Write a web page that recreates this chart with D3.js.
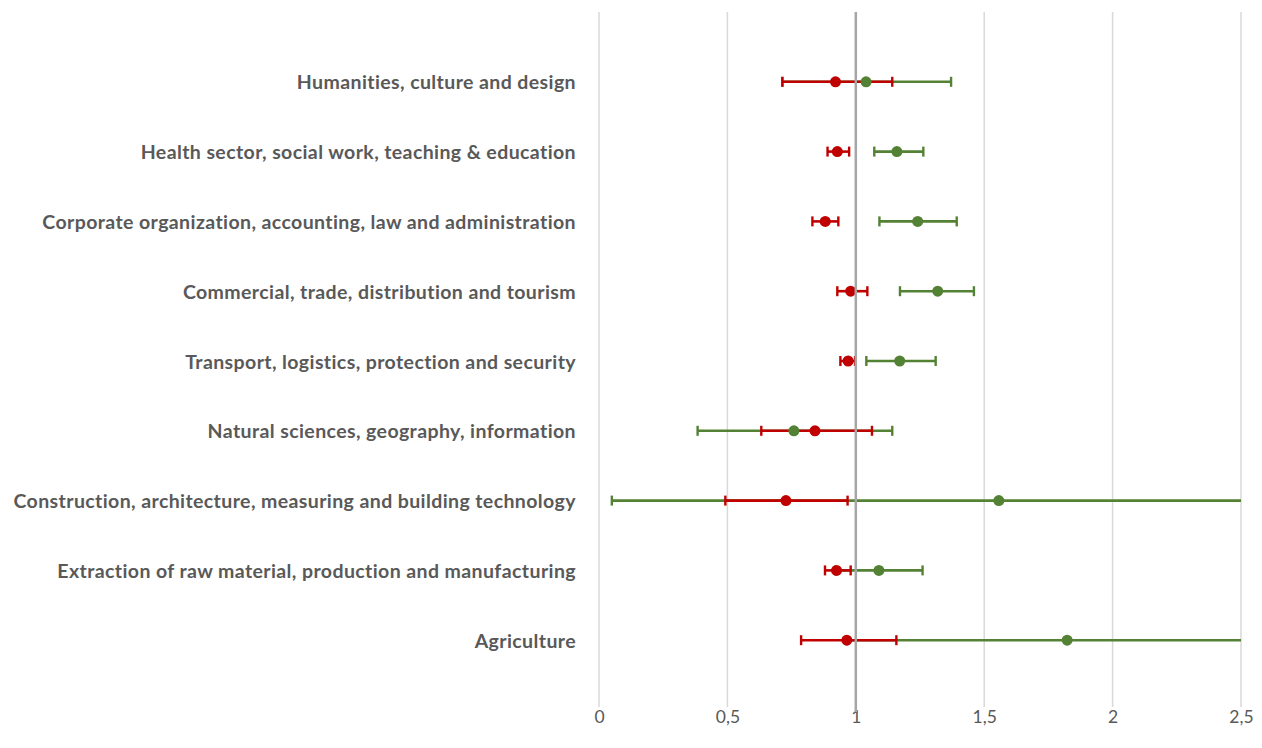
<!DOCTYPE html>
<html>
<head>
<meta charset="utf-8">
<script src="https://cdn.jsdelivr.net/npm/d3@7"></script>
<style>
  html, body { margin: 0; padding: 0; background: #fff; }
  svg { display: block; }
</style>
</head>
<body>
<svg id="chart" width="1262" height="748"></svg>
<script>
// Categories listed bottom to top (position 1 = Agriculture)
const categories = [
  "Agriculture",
  "Extraction of raw material, production and manufacturing",
  "Construction, architecture, measuring and building technology",
  "Natural sciences, geography, information",
  "Transport, logistics, protection and security",
  "Commercial, trade, distribution and tourism",
  "Corporate organization, accounting, law and administration",
  "Health sector, social work, teaching & education",
  "Humanities, culture and design"
];

// Red series: point estimate with lower / upper bounds
const redEst   = [0.965, 0.925, 0.728, 0.841, 0.970, 0.980, 0.881, 0.928, 0.921];
const redLow   = [0.787, 0.880, 0.492, 0.632, 0.940, 0.928, 0.831, 0.890, 0.714];
const redHigh  = [1.158, 0.980, 0.968, 1.063, 0.997, 1.045, 0.932, 0.974, 1.142];

// Green series: point estimate with lower / upper bounds
const greenEst  = [1.823, 1.090, 1.557, 0.759, 1.171, 1.319, 1.241, 1.160, 1.040];
const greenLow  = [0.965, 0.920, 0.050, 0.384, 1.041, 1.172, 1.092, 1.072, 0.714];
const greenHigh = [2.680, 1.260, 3.060, 1.142, 1.311, 1.460, 1.393, 1.263, 1.371];

const xTicks = [0, 0.5, 1, 1.5, 2, 2.5];
const refValue = 1;

const svg = d3.select("#chart");

const x = d3.scaleLinear().domain([0, 2.5]).range([599, 1241]);
const y = d3.scaleLinear().domain([0, 10]).range([710, 12]);

const textColor = "#595959";
const redColor = "#C00000";
const greenColor = "#548235";

// Vertical gridlines
svg.append("g")
  .selectAll("line")
  .data(xTicks.filter(d => d !== refValue))
  .join("line")
  .attr("x1", d => x(d)).attr("x2", d => x(d))
  .attr("y1", y(10)).attr("y2", 707)
  .attr("stroke", "#d9d9d9")
  .attr("stroke-width", 1.5);

// X axis labels with comma decimal separator
const xAxis = d3.axisBottom(x)
  .tickValues(xTicks)
  .tickSize(0)
  .tickPadding(0)
  .tickFormat(d => String(d).replace(".", ","));

const axisG = svg.append("g")
  .attr("transform", "translate(0,710)")
  .call(xAxis);
axisG.select(".domain").remove();
axisG.selectAll("text")
  .attr("dy", null)
  .attr("y", 13)
  .attr("font-family", "Lato, 'Open Sans', sans-serif")
  .attr("font-size", 17.5)
  .attr("fill", textColor);

// Category labels
const yAxis = d3.axisLeft(y)
  .tickValues(categories.map((c, i) => i + 1))
  .tickSize(0)
  .tickPadding(0)
  .tickFormat(d => categories[d - 1]);

const yG = svg.append("g")
  .attr("transform", "translate(576,0)")
  .call(yAxis);
yG.select(".domain").remove();
yG.selectAll("text")
  .attr("dy", "0.36em")
  .attr("font-family", "Lato, 'Open Sans', sans-serif")
  .attr("font-weight", 700)
  .attr("font-size", 19.5)
  .attr("letter-spacing", "0.4px")
  .attr("fill", textColor);

// Clip region for error bars that run past the axis maximum
svg.append("clipPath").attr("id", "plotClip")
  .append("rect")
  .attr("x", x(0) - 6).attr("y", 0)
  .attr("width", x(2.5) - x(0) + 6).attr("height", 748);

const rows = categories.map((c, i) => ({
  pos: i + 1,
  red: { est: redEst[i], low: redLow[i], high: redHigh[i] },
  green: { est: greenEst[i], low: greenLow[i], high: greenHigh[i] }
}));

const capH = 5;

function drawBars(key, color) {
  const g = svg.append("g").attr("clip-path", "url(#plotClip)");
  const rowG = g.selectAll("g").data(rows).join("g");
  rowG.append("line")
    .attr("x1", d => x(d[key].low)).attr("x2", d => x(d[key].high))
    .attr("y1", d => y(d.pos)).attr("y2", d => y(d.pos))
    .attr("stroke", color).attr("stroke-width", 2.6);
  rowG.append("line")
    .attr("x1", d => x(d[key].low)).attr("x2", d => x(d[key].low))
    .attr("y1", d => y(d.pos) - capH).attr("y2", d => y(d.pos) + capH)
    .attr("stroke", color).attr("stroke-width", 2.4);
  rowG.append("line")
    .attr("x1", d => x(d[key].high)).attr("x2", d => x(d[key].high))
    .attr("y1", d => y(d.pos) - capH).attr("y2", d => y(d.pos) + capH)
    .attr("stroke", color).attr("stroke-width", 2.4);
}

function drawDots(key, color) {
  svg.append("g")
    .selectAll("circle")
    .data(rows)
    .join("circle")
    .attr("cx", d => x(d[key].est))
    .attr("cy", d => y(d.pos))
    .attr("r", 5.5)
    .attr("fill", color);
}

drawBars("green", greenColor);
drawBars("red", redColor);
drawDots("green", greenColor);
drawDots("red", redColor);

// Reference line at 1
svg.append("line")
  .attr("x1", x(refValue)).attr("x2", x(refValue))
  .attr("y1", y(10)).attr("y2", 712)
  .attr("stroke", "#a6a6a6")
  .attr("stroke-width", 2.5);
</script>
</body>
</html>
